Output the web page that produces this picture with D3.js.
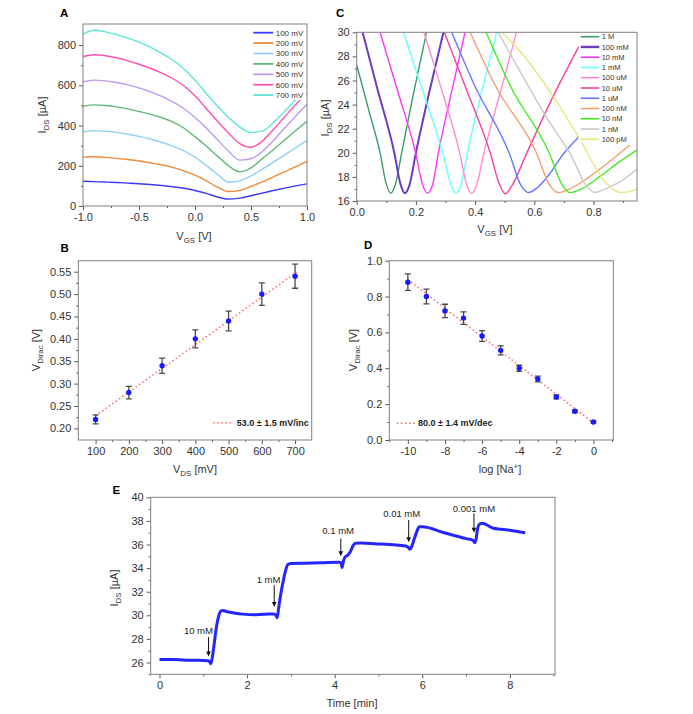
<!DOCTYPE html>
<html><head><meta charset="utf-8">
<script src="https://cdn.jsdelivr.net/npm/d3@7"></script>
<style>body{margin:0;background:#fff} svg{display:block} text{font-family:"Liberation Sans",Arial,sans-serif}</style>
</head><body>
<svg id="c" width="693" height="714"></svg>
<script>
// ---------- Panel A data ----------
const vgsA = [-1.0,-0.9,-0.8,-0.7,-0.6,-0.5,-0.4,-0.3,-0.2,-0.1,0.0,0.1,0.2,0.3,0.4,0.5,0.6,0.7,0.8,0.9,1.0];
const seriesA = ["100 mV","200 mV","300 mV","400 mV","500 mV","600 mV","700 mV"];
const colorsA = ["#3a3aff","#f08a3c","#8fd0f5","#5fb878","#bb99ee","#ff4fb0","#5ee6d8"];
const ids100 = [123,121,119,117,114,111,107,102,96,88,77,63,45,34,39,51,64,77,89,100,110];
const ids200 = [243,245,242,237,231,224,215,205,192,175,153,125,94,72,78,97,120,145,170,196,222];
const ids300 = [368,375,372,366,357,346,333,317,298,274,243,202,158,118,125,150,183,218,254,290,327];
const ids400 = [496,503,500,493,483,470,457,440,418,388,345,298,248,200,170,190,235,280,328,375,421];
const ids500 = [618,626,622,614,602,587,568,546,518,485,440,388,330,272,228,235,270,326,388,448,506];
const ids600 = [742,752,747,737,722,705,685,662,634,598,548,485,422,362,310,292,322,380,443,505,560];
const ids700 = [855,874,866,852,835,815,790,760,726,683,625,560,497,440,392,366,372,415,470,530,595];
const idsA = [ids100,ids200,ids300,ids400,ids500,ids600,ids700];

// ---------- Panel C data ----------
const seriesC = ["1 M","100 mM","10 mM","1 mM","100 uM","10 uM","1 uM","100 nM","10 nM","1 nM","100 pM"];
const colorsC = ["#3c9a64","#6a3cc0","#ff33ff","#66ffff","#ff8ccc","#f5409a","#6677ff","#f0a070","#44ee22","#c8c8c8","#e6e67a"];
const c1M   = [[0,27.3],[0.04,23.6],[0.079,20],[0.1,17.4],[0.115,16.65],[0.13,17.3],[0.152,20],[0.19,24.7],[0.236,30]];
const c100mM= [[0.02,30],[0.07,25.3],[0.127,20],[0.148,17.4],[0.163,16.65],[0.178,17.3],[0.2,20],[0.245,25],[0.293,30]];
const c10mM = [[0.079,30],[0.14,25],[0.199,20],[0.222,17.4],[0.239,16.65],[0.256,17.3],[0.276,20],[0.32,25],[0.366,30]];
const c1mM  = [[0.158,30],[0.225,25],[0.291,20],[0.318,17.4],[0.335,16.65],[0.352,17.3],[0.374,20],[0.425,25.3],[0.473,30]];
const c100uM= [[0.227,30],[0.29,25],[0.348,20],[0.371,17.4],[0.388,16.65],[0.405,17.3],[0.43,20],[0.485,25],[0.54,30]];
const c10uM = [[0.296,30],[0.37,25.3],[0.451,20],[0.482,17.4],[0.502,16.6],[0.525,17.3],[0.575,20],[0.66,24.5],[0.75,28.8]];
const c1uM  = [[0.321,30],[0.4,25.5],[0.515,20],[0.555,17.3],[0.58,16.7],[0.61,17.1],[0.65,18.2],[0.698,19.9],[0.754,21.4]];
const c100nM= [[0.383,30],[0.47,25.5],[0.607,20],[0.65,17.4],[0.681,16.7],[0.72,17.0],[0.78,17.9],[0.85,19.2],[0.923,20.65]];
const c10nM = [[0.437,30],[0.52,25.5],[0.65,20],[0.695,17.3],[0.72,16.7],[0.76,17.0],[0.82,18.0],[0.885,19.2],[0.946,20.23]];
const c1nM  = [[0.478,30],[0.56,26.4],[0.65,22.6],[0.724,19.8],[0.775,17.3],[0.805,16.7],[0.84,17.0],[0.89,17.6],[0.946,18.63]];
const c100pM= [[0.49,30],[0.56,28.2],[0.653,25.07],[0.755,21.07],[0.834,17.75],[0.87,16.9],[0.895,16.7],[0.946,16.97]];
const curvesC = [c1M,c100mM,c10mM,c1mM,c100uM,c10uM,c1uM,c100nM,c10nM,c1nM,c100pM];

// ---------- Panel B data ----------
const vdsB = [100,200,300,400,500,600,700];
const diracB = [0.22,0.28,0.34,0.40,0.44,0.50,0.54];
const errB = [0.010,0.014,0.017,0.020,0.022,0.025,0.027];
const fitB = [[100,0.228],[705,0.549]];
const fitLabelB = "53.0 ± 1.5 mV/inc";

// ---------- Panel D data ----------
const logNaD = [-10,-9,-8,-7,-6,-5,-4,-3,-2,-1,0];
const diracD = [0.88,0.80,0.72,0.68,0.58,0.50,0.40,0.34,0.24,0.16,0.10];
const errD = [0.046,0.041,0.037,0.035,0.030,0.025,0.017,0.016,0.011,0.007,0.005];
const fitD = [[-10,0.895],[0,0.095]];
const fitLabelD = "80.0 ± 1.4 mV/dec";

// ---------- Panel E data ----------
const timeE = [0,0.3,0.6,0.9,1.1,1.14,1.17,1.2,1.25,1.3,1.35,1.4,1.45,1.55,1.7,1.9,2.2,2.5,2.62,2.66,2.69,2.72,2.76,2.82,2.88,2.93,3.0,3.3,3.7,4.1,4.14,4.17,4.2,4.24,4.3,4.36,4.42,4.48,4.6,5.0,5.4,5.64,5.68,5.72,5.76,5.82,5.88,5.93,6.0,6.5,7.0,7.16,7.2,7.23,7.26,7.3,7.36,7.45,7.55,7.62,7.8,8.1,8.35];
const currE = [26.25,26.25,26.2,26.2,26.15,26.1,25.9,26.3,27.6,29.0,29.9,30.35,30.4,30.3,30.2,30.1,30.05,30.1,30.12,30.0,29.8,30.6,31.6,32.8,33.8,34.3,34.4,34.42,34.45,34.5,34.45,34.05,34.6,34.95,35.1,35.4,35.9,36.1,36.12,36.05,35.95,35.85,35.75,35.6,35.85,36.5,37.15,37.5,37.5,37.0,36.5,36.35,36.15,36.5,37.3,37.7,37.8,37.7,37.5,37.38,37.3,37.15,37.0];
const arrowLabels = ["10 mM","1 mM","0.1 mM","0.01 mM","0.001 mM"];
const arrowTime = [1.12,2.62,4.14,5.69,7.18];
const arrowFrom = [28.15,32.55,36.5,38.07,38.64];
const arrowTo = [26.5,30.7,35.0,36.2,37.0];
const labelTime = [0.89,2.49,4.08,5.53,7.18];
const labelCurr = [28.4,32.75,36.88,38.3,38.78];

// ---------- drawing ----------
const svg = d3.select("#c");
const TICK = "#555", FRAME = "#808080", TXT = "#333";

function panel(cfg){
  const x = d3.scaleLinear().domain(cfg.xd).range([cfg.l, cfg.r]);
  const y = d3.scaleLinear().domain(cfg.yd).range([cfg.b, cfg.t]);
  const id = "clip" + cfg.name;
  svg.append("clipPath").attr("id", id).append("rect")
    .attr("x", cfg.l).attr("y", cfg.t).attr("width", cfg.r - cfg.l).attr("height", cfg.b - cfg.t);
  const g = svg.append("g");
  const plot = g.append("g").attr("clip-path", `url(#${id})`);
  const over = g.append("g");
  const xa = g.append("g").attr("transform", `translate(0,${cfg.b})`);
  xa.append("g").call(d3.axisBottom(x).tickValues(cfg.xMinor).tickSize(2).tickFormat(""));
  xa.append("g").call(d3.axisBottom(x).tickValues(cfg.xMajor).tickSize(4).tickPadding(3).tickFormat(cfg.xFmt));
  const ya = g.append("g").attr("transform", `translate(${cfg.l},0)`);
  ya.append("g").call(d3.axisLeft(y).tickValues(cfg.yMinor).tickSize(2).tickFormat(""));
  ya.append("g").call(d3.axisLeft(y).tickValues(cfg.yMajor).tickSize(4).tickPadding(3).tickFormat(cfg.yFmt));
  g.selectAll(".domain").remove();
  g.selectAll(".tick line").attr("stroke", TICK);
  g.selectAll(".tick text").attr("font-size", 11).attr("fill", TXT).attr("font-family", '"Liberation Sans", Arial, sans-serif');
  g.append("rect").attr("x", cfg.l).attr("y", cfg.t).attr("width", cfg.r - cfg.l).attr("height", cfg.b - cfg.t)
    .attr("fill", "none").attr("stroke", FRAME).attr("stroke-width", 1);
  return {g, plot, over, x, y};
}

function rich(x, y, parts, opts = {}){
  const size = opts.size || 11;
  const t = svg.append("text").attr("font-size", size).attr("fill", TXT).attr("text-anchor", "middle");
  if (opts.rotate) t.attr("transform", `translate(${x},${y}) rotate(-90)`);
  else t.attr("x", x).attr("y", y);
  let cur = 0;
  parts.forEach(([s, k]) => {
    const ts = t.append("tspan").text(s);
    let target = 0;
    if (k === "sub") { ts.attr("font-size", size * 0.72); target = size * 0.28; }
    if (k === "sup") { ts.attr("font-size", size * 0.72); target = -size * 0.38; }
    ts.attr("dy", target - cur);
    cur = target;
  });
  return t;
}

function letter(s, x, y){
  svg.append("text").attr("x", x).attr("y", y).attr("font-size", 11.5).attr("font-weight", "bold").attr("fill", "#000").text(s);
}

const rng = (a, b, s) => d3.range(a, b + s / 2, s).map(v => +v.toFixed(6));

// ===== Panel A =====
{
  const p = panel({name:"A", l:83, r:307, t:24, b:206, xd:[-1,1], yd:[0,905],
    xMajor:[-1,-0.5,0,0.5,1], xMinor:[-0.75,-0.25,0.25,0.75], xFmt:d=>d.toFixed(1),
    yMajor:[0,200,400,600,800], yMinor:[100,300,500,700], yFmt:d=>String(d)});
  const line = d3.line().x((d,i)=>p.x(vgsA[i])).y(d=>p.y(d)).curve(d3.curveMonotoneX);
  idsA.forEach((s,k)=>{
    p.plot.append("path").attr("d", line(s)).attr("fill","none").attr("stroke", colorsA[k]).attr("stroke-width",1.4);
  });
  p.over.append("rect").attr("x",250).attr("y",25).attr("width",56).attr("height",75).attr("fill","#fff");
  seriesA.forEach((s,k)=>{
    const yy = 32.7 + k*10.4;
    p.over.append("line").attr("x1",253.3).attr("x2",273.3).attr("y1",yy).attr("y2",yy).attr("stroke",colorsA[k]).attr("stroke-width",1.8);
    p.over.append("text").attr("x",275.7).attr("y",yy).attr("dy","0.35em").attr("font-size",8).attr("fill",TXT).text(s);
  });
  letter("A", 60, 16.7);
  rich(46, 115, [["I"],["DS","sub"],[" [µA]"]], {rotate:true});
  rich(194, 239.5, [["V"],["GS","sub"],[" [V]"]]);
}

// ===== Panel C =====
{
  const p = panel({name:"C", l:356.7, r:637, t:32.3, b:201, xd:[0,0.947], yd:[16,30],
    xMajor:[0,0.2,0.4,0.6,0.8], xMinor:[0.1,0.3,0.5,0.7,0.9], xFmt:d=>d.toFixed(1),
    yMajor:[16,18,20,22,24,26,28,30], yMinor:[17,19,21,23,25,27,29], yFmt:d=>String(d)});
  const line = d3.line().x(d=>p.x(d[0])).y(d=>p.y(d[1])).curve(d3.curveMonotoneX);
  curvesC.forEach((c,k)=>{
    p.plot.append("path").attr("d", line(c)).attr("fill","none").attr("stroke", colorsC[k]).attr("stroke-width", k===1?2:1.4);
  });
  p.over.append("rect").attr("x",579).attr("y",32.5).attr("width",57).attr("height",110).attr("fill","#fff");
  seriesC.forEach((s,k)=>{
    const yy = 36.7 + k*10.26;
    p.over.append("line").attr("x1",580.7).attr("x2",599.3).attr("y1",yy).attr("y2",yy).attr("stroke",colorsC[k]).attr("stroke-width", k===1?2.4:1.6);
    p.over.append("text").attr("x",601.7).attr("y",yy).attr("dy","0.35em").attr("font-size",7.5).attr("fill",TXT).text(s);
  });
  letter("C", 336, 16.7);
  rich(329, 118, [["I"],["DS","sub"],[" [µA]"]], {rotate:true});
  rich(495, 233, [["V"],["GS","sub"],[" [V]"]]);
}

function scatterPanel(p, xs, ys, es, fit, label, lx1, lx2, ly, tx){
  p.plot.append("path").attr("d", d3.line().x(d=>p.x(d[0])).y(d=>p.y(d[1]))(fit))
    .attr("stroke","#ff6a6a").attr("stroke-width",1.5).attr("stroke-dasharray","1.5,2.6").attr("fill","none");
  xs.forEach((xv,i)=>{
    const cx = p.x(xv), y1 = p.y(ys[i]-es[i]), y2 = p.y(ys[i]+es[i]);
    p.plot.append("line").attr("x1",cx).attr("x2",cx).attr("y1",y1).attr("y2",y2).attr("stroke","#4a4a4a").attr("stroke-width",1.3);
    [y1,y2].forEach(yy=>p.plot.append("line").attr("x1",cx-3).attr("x2",cx+3).attr("y1",yy).attr("y2",yy).attr("stroke","#4a4a4a").attr("stroke-width",1.3));
    p.plot.append("circle").attr("cx",cx).attr("cy",p.y(ys[i])).attr("r",2.7).attr("fill","#1a1aff");
  });
  p.over.append("line").attr("x1",lx1).attr("x2",lx2).attr("y1",ly).attr("y2",ly)
    .attr("stroke","#ff6a6a").attr("stroke-width",1.5).attr("stroke-dasharray","1.5,2.6");
  p.over.append("text").attr("x",tx).attr("y",ly).attr("dy","0.35em").attr("font-size",9).attr("font-weight","bold").attr("fill","#222").text(label);
}

// ===== Panel B =====
{
  const p = panel({name:"B", l:78.3, r:311.7, t:260.7, b:440, xd:[48,750], yd:[0.174,0.5746],
    xMajor:[100,200,300,400,500,600,700], xMinor:[150,250,350,450,550,650], xFmt:d=>String(d),
    yMajor:[0.20,0.25,0.30,0.35,0.40,0.45,0.50,0.55], yMinor:[0.225,0.275,0.325,0.375,0.425,0.475,0.525], yFmt:d=>d.toFixed(2)});
  scatterPanel(p, vdsB, diracB, errB, fitB, fitLabelB, 213.3, 233.3, 422.7, 236.7);
  letter("B", 60.5, 252.3);
  rich(40, 350, [["V"],["Dirac","sub"],[" [V]"]], {rotate:true});
  rich(195, 473, [["V"],["DS","sub"],[" [mV]"]]);
}

// ===== Panel D =====
{
  const p = panel({name:"D", l:389.3, r:613.3, t:260.7, b:440, xd:[-11,1.07], yd:[0,1],
    xMajor:[-10,-8,-6,-4,-2,0], xMinor:[-11,-9,-7,-5,-3,-1,1], xFmt:d=>String(d),
    yMajor:[0,0.2,0.4,0.6,0.8,1.0], yMinor:[0.1,0.3,0.5,0.7,0.9], yFmt:d=>d.toFixed(1)});
  scatterPanel(p, logNaD, diracD, errD, fitD, fitLabelD, 396.7, 415, 423.3, 418);
  letter("D", 364, 248.5);
  rich(357, 350, [["V"],["Dirac","sub"],[" [V]"]], {rotate:true});
  rich(500, 473, [["log [Na"],["+","sup"],["]"]]);
}

// ===== Panel E =====
{
  const p = panel({name:"E", l:150.7, r:555, t:497.3, b:674.3, xd:[-0.2,9.03], yd:[25,40],
    xMajor:[0,2,4,6,8], xMinor:[1,3,5,7,9], xFmt:d=>String(d),
    yMajor:[26,28,30,32,34,36,38,40], yMinor:[25,27,29,31,33,35,37,39], yFmt:d=>String(d)});
  const line = d3.line().x((d,i)=>p.x(timeE[i])).y(d=>p.y(d)).curve(d3.curveMonotoneX);
  p.plot.append("path").attr("d", line(currE)).attr("fill","none").attr("stroke","#2525ff").attr("stroke-width",3).attr("stroke-linejoin","round");
  arrowLabels.forEach((s,i)=>{
    const ax = p.x(arrowTime[i]), y1 = p.y(arrowFrom[i]), y2 = p.y(arrowTo[i]);
    p.over.append("line").attr("x1",ax).attr("x2",ax).attr("y1",y1).attr("y2",y2-4).attr("stroke","#111").attr("stroke-width",1);
    p.over.append("path").attr("d",`M${ax-2.3},${y2-5}L${ax+2.3},${y2-5}L${ax},${y2}Z`).attr("fill","#111");
    p.over.append("text").attr("x",p.x(labelTime[i])).attr("y",p.y(labelCurr[i])).attr("text-anchor","middle")
      .attr("font-size",9.5).attr("fill","#222").text(s);
  });
  letter("E", 112.5, 494);
  rich(118, 588, [["I"],["DS","sub"],[" [µA]"]], {rotate:true});
  rich(352, 707, [["Time [min]"]]);
}
</script></body></html>
